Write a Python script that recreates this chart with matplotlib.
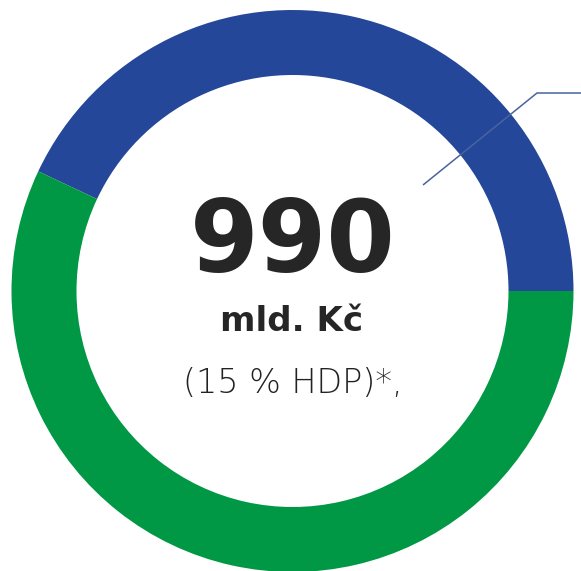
import numpy as np
import matplotlib.pyplot as plt

# share of the total (blue part vs green part of the ring)
labels = ['část A', 'část B']
shares = [43, 57]
colors = ['#24479a', '#009844']

total_text = '990'
unit_text = 'mld. Kč'
note_text = '(15 % HDP)*,'

W, H = 581, 571
fig = plt.figure(figsize=(W / 100, H / 100), dpi=100)
ax = fig.add_axes([0, 0, 1, 1])

cx, cy = 292.5, H - 291
ax.pie(shares, colors=colors, startangle=0, counterclock=True,
       center=(cx, cy), radius=281,
       wedgeprops=dict(width=65, linewidth=0))

# leader line
ax.plot([423, 537, 581], [H - 185, H - 93, H - 93], color='#4a639e', lw=1.1,
        solid_capstyle='butt', zorder=5)

ax.text(cx, H - 272, total_text, ha='center', va='baseline',
        fontsize=71, fontweight='bold', color='#262626', family='DejaVu Sans')
ax.text(cx - 1, H - 331, unit_text, ha='center', va='baseline',
        fontsize=24.5, fontweight='bold', color='#262626', family='DejaVu Sans')
ax.text(cx, H - 393, note_text, ha='center', va='baseline',
        fontsize=24, fontweight=200, color='#222222', family='DejaVu Sans')

ax.set_xlim(0, W)
ax.set_ylim(0, H)
ax.set_aspect('equal')
ax.axis('off')

fig.savefig('out.png', dpi=100)
